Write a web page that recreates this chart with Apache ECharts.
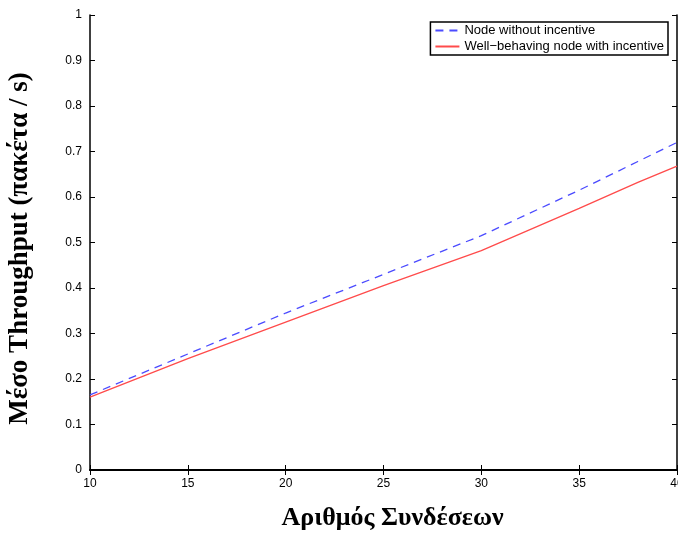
<!DOCTYPE html>
<html>
<head>
<meta charset="utf-8">
<script src="https://cdn.jsdelivr.net/npm/echarts@6/dist/echarts.min.js"></script>
<style>
html,body{margin:0;padding:0;background:#fff;}
#chart{width:678px;height:533px;}
</style>
</head>
<body>
<div id="chart"></div>
<script>
// Number of connections (x) and mean throughput (packets / s)
const connections = [10, 15, 20, 25, 30, 35, 38, 40];
const noIncentive = [0.165, 0.255, 0.345, 0.43, 0.515, 0.615, 0.678, 0.72];
const withIncentive = [0.16, 0.245, 0.325, 0.405, 0.482, 0.575, 0.632, 0.668];
const seriesNames = ['Node without incentive', 'Well\u2212behaving node with incentive'];

const chart = echarts.init(document.getElementById('chart'));
const tickFont = { fontFamily: 'Liberation Sans', fontSize: 12, color: '#000' };
const box = { show: true, lineStyle: { color: '#000', width: 1.5 } };
const ticksIn = { show: true, inside: true, length: 5, lineStyle: { color: '#000' } };

chart.setOption({
  animation: false,
  grid: { left: 90, right: 1, top: 15, bottom: 63, outerBoundsMode: 'none', containLabel: false },
  legend: {
    orient: 'vertical',
    right: 10,
    top: 22,
    padding: [2, 4, 2, 4],
    itemGap: 3,
    itemWidth: 24,
    itemHeight: 12,
    borderColor: '#000',
    borderWidth: 1.5,
    itemStyle: { opacity: 0 },
    textStyle: { fontFamily: 'Liberation Sans', fontSize: 13, color: '#000' },
    data: seriesNames
  },
  xAxis: [
    {
      type: 'value', min: 10, max: 40, interval: 5,
      axisLine: { show: true, lineStyle: { color: '#000', width: 2 } },
      axisTick: ticksIn,
      axisLabel: Object.assign({ margin: 8 }, tickFont),
      splitLine: { show: false },
      name: 'Αριθμός Συνδέσεων',
      nameLocation: 'middle',
      nameGap: 35,
      nameTextStyle: { fontFamily: 'Liberation Serif', fontWeight: 'bold', fontSize: 26, color: '#000', padding: [0, 0, 0, 18] }
    },
    {
      type: 'value', min: 10, max: 40, interval: 5, position: 'top',
      axisLine: box, axisTick: ticksIn, axisLabel: { show: false }, splitLine: { show: false }
    }
  ],
  yAxis: [
    {
      type: 'value', min: 0, max: 1, interval: 0.1,
      axisLine: { show: true, lineStyle: { color: '#000', width: 1.5 } },
      axisTick: ticksIn,
      axisLabel: Object.assign({ margin: 8, formatter: v => (Math.round(v * 10) / 10).toString() }, tickFont),
      splitLine: { show: false },
      name: 'Μέσο Throughput (πακέτα / s)',
      nameLocation: 'middle',
      nameGap: 56,
      nameTextStyle: { fontFamily: 'Liberation Serif', fontWeight: 'bold', fontSize: 27, color: '#000', padding: [0, 12, 0, 0] }
    },
    {
      type: 'value', min: 0, max: 1, interval: 0.1, position: 'right',
      axisLine: box, axisTick: ticksIn, axisLabel: { show: false }, splitLine: { show: false }
    }
  ],
  series: [
    {
      name: seriesNames[0], type: 'line', symbol: 'none',
      data: connections.map((c, i) => [c, noIncentive[i]]),
      lineStyle: { color: '#4b4bff', width: 1.3, type: [8, 6] },
      itemStyle: { color: '#4b4bff' }
    },
    {
      name: seriesNames[1], type: 'line', symbol: 'none',
      data: connections.map((c, i) => [c, withIncentive[i]]),
      lineStyle: { color: '#ff4b4b', width: 1.3 },
      itemStyle: { color: '#ff4b4b' }
    }
  ]
});
</script>
</body>
</html>
